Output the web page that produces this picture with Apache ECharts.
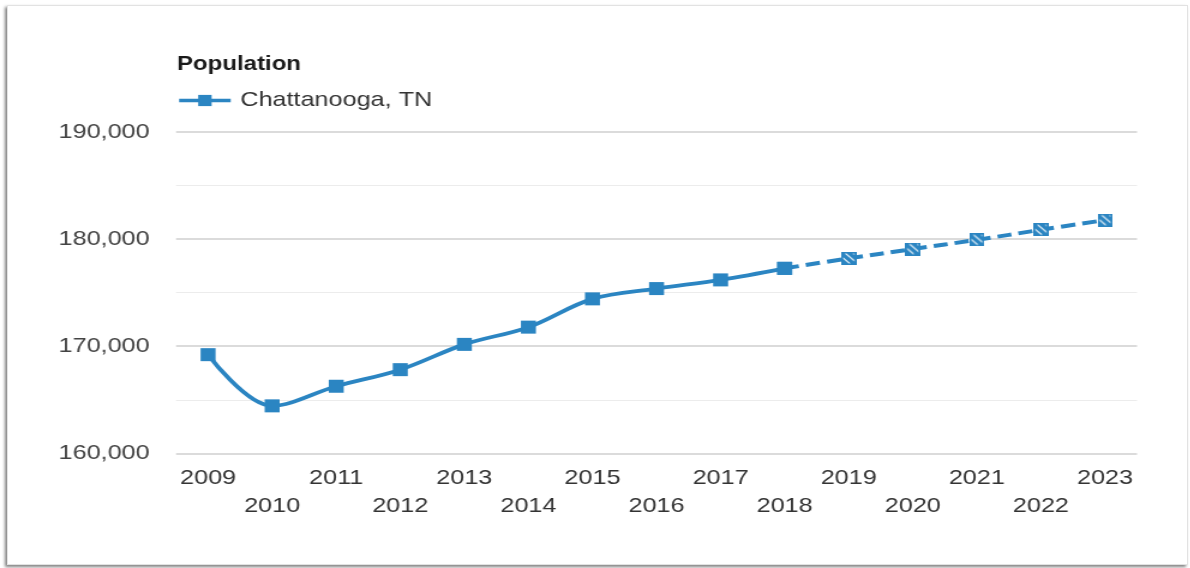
<!DOCTYPE html>
<html>
<head>
<meta charset="utf-8">
<script src="https://cdn.jsdelivr.net/npm/echarts@6/dist/echarts.min.js"></script>
<style>
  html, body { margin: 0; padding: 0; background: #fff; }
  body { width: 1190px; height: 568px; position: relative; overflow: hidden; }
  #frame {
    position: absolute; left: 7px; top: 5px; width: 1179px; height: 558px;
    border: 1px solid #e2e2e2; box-shadow: -2px 2px 3px rgba(0,0,0,0.5);
    background: #fff;
  }
  /* the plot is laid out narrow and widened horizontally */
  #chart {
    position: absolute; left: 0; top: 0; width: 992px; height: 568px;
    transform: scaleX(1.2); transform-origin: 0 0;
  }
</style>
</head>
<body>
<div id="frame"></div>
<div id="chart"></div>
<script>
// Chattanooga, TN population by year
const years = ['2009','2010','2011','2012','2013','2014','2015','2016','2017','2018','2019','2020','2021','2022','2023'];
const population = [169210, 164430, 166260, 167810, 170170, 171780, 174420, 175380, 176190, 177270, 178200, 179070, 179930, 180870, 181770];
// first year drawn with the dashed, hatched style
const dashedFrom = '2018';
const yTicks = [160000, 170000, 180000, 190000];

const BLUE = '#2b85c2';
const FONT = "'Liberation Sans', Arial, sans-serif";

// hatched square marker image: blue with white diagonals and a blue edge
function hatchedSquare() {
  const k = 4, w = 12.5 * k, h = 13 * k;
  const c = document.createElement('canvas');
  c.width = w; c.height = h;
  const g = c.getContext('2d');
  g.fillStyle = BLUE;
  g.fillRect(0, 0, w, h);
  g.save();
  g.beginPath();
  g.rect(1.6 * k, 1.6 * k, w - 3.2 * k, h - 3.2 * k);
  g.clip();
  g.strokeStyle = '#ffffff';
  g.lineWidth = 1.1 * k;
  g.beginPath();
  for (let off = -h + 2 * k; off < w + h; off += 6.5 * k) {
    g.moveTo(off, 0);
    g.lineTo(off + h, h);
  }
  g.stroke();
  g.restore();
  return 'image://' + c.toDataURL();
}

const cut = years.indexOf(dashedFrom);
const solidData = population.map((v, i) => i <= cut ? v : null);
const dashedData = population.map((v, i) => (i >= cut ? {
  value: v,
  symbol: i === cut ? 'rect' : hatchedSquare()
} : null));

const chart = echarts.init(document.getElementById('chart'), null, { renderer: 'canvas' });
chart.setOption({
  animation: false,
  backgroundColor: 'transparent',
  textStyle: { fontFamily: FONT },
  title: {
    text: 'Population',
    left: 147.5, top: 53, padding: 0,
    textStyle: { fontFamily: FONT, fontSize: 20, fontWeight: 'bold', color: '#1a1a1a', lineHeight: 22 }
  },
  legend: {
    data: ['Chattanooga, TN'],
    left: 147.5, top: 90, padding: 0,
    itemWidth: 43, itemHeight: 14, itemGap: 10,
    lineStyle: { width: 3.5 },
    textStyle: { fontFamily: FONT, fontSize: 21, color: '#333', padding: [0, 0, 0, 3] }
  },
  grid: { left: 146.7, right: 44.5, top: 132, bottom: 114.7, containLabel: false },
  xAxis: {
    type: 'category',
    data: years,
    boundaryGap: true,
    axisLine: { show: false },
    axisTick: { show: false },
    axisLabel: {
      interval: 0,
      margin: 11,
      fontFamily: FONT, fontSize: 21, color: '#333', lineHeight: 28,
      formatter: (v, i) => (i % 2 ? '\n' + v : v)
    }
  },
  yAxis: {
    type: 'value',
    min: yTicks[0], max: yTicks[yTicks.length - 1],
    interval: yTicks[1] - yTicks[0],
    axisLine: { show: false },
    axisTick: { show: false },
    axisLabel: {
      margin: 22,
      fontFamily: FONT, fontSize: 21, color: '#444',
      formatter: v => v.toLocaleString('en-US')
    },
    splitLine: { lineStyle: { color: '#cfcfcf', width: 1.5 } },
    minorTick: { show: false, splitNumber: 2 },
    minorSplitLine: { show: true, lineStyle: { color: '#ececec', width: 1 } }
  },
  series: [
    {
      name: 'Chattanooga, TN',
      type: 'line',
      data: solidData,
      smooth: 0.35,
      symbol: 'rect',
      symbolSize: [12.5, 13],
      lineStyle: { color: BLUE, width: 3.8 },
      itemStyle: { color: BLUE },
      z: 3
    },
    {
      name: 'Chattanooga, TN',
      type: 'line',
      data: dashedData,
      smooth: 0.35,
      symbolSize: [12.5, 13],
      lineStyle: { color: BLUE, width: 4, type: [12, 6] },
      itemStyle: { color: BLUE },
      z: 2
    }
  ]
});
</script>
</body>
</html>
